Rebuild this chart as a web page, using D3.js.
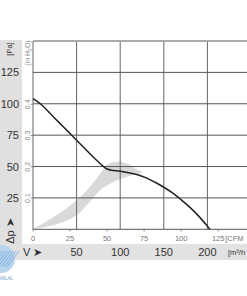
<!DOCTYPE html>
<html lang="en">
<head>
<meta charset="UTF-8">
<title>Fan curve</title>
<script src="https://d3js.org/d3.v7.min.js"></script>
<style>
  body {margin:0; background:#fff;}
  svg {display:block; font-family:"Liberation Sans", Arial, sans-serif;}
</style>
</head>
<body>
<div id="chart"></div>
<script>
// fan curve, airflow in m3/h vs static pressure in Pa
var flow     = [0, 10, 20, 30, 40, 50, 60, 70, 80, 85, 90, 100, 110, 120, 130, 140, 150, 160, 170, 180, 190, 200, 203];
var pressure = [104, 99, 92, 85, 78, 71, 64, 57, 50.5, 48, 47, 46.3, 45, 43.5, 41, 37.5, 33.5, 29, 23.5, 17.5, 10.5, 2.5, 0];

// shaded operating zone (upper edge then lower edge back to origin)
var zoneFlow     = [0, 14, 27.5, 39, 50.4, 62, 73.4, 80, 86, 94, 102, 111, 120, 125, 111, 100, 88, 77, 65, 50.4, 37, 19.5, 0];
var zonePressure = [0, 5.8, 11.4, 17, 23.3, 31.3, 40.9, 47.2, 52, 53.6, 53.6, 51.2, 47.2, 45.6, 42.5, 40, 36, 31.3, 21.7, 11.4, 6.6, 2.6, 0];

var paTicks   = [25, 50, 75, 100, 125];
var inh2oTicks = [0.1, 0.2, 0.3, 0.4];
var m3hTicks  = [50, 100, 150, 200];
var cfmTicks  = [0, 25, 50, 75, 100, 125];

var W = 247, H = 296;
var svg = d3.select("#chart").append("svg").attr("width", W).attr("height", H);

var x = d3.scaleLinear().domain([0, 250]).range([33, 251]);
var y = d3.scaleLinear().domain([0, 150]).range([229.3, 41]);

// grey label bands
svg.append("rect").attr("x", 0).attr("y", 40).attr("width", 22).attr("height", 220).attr("fill", "#e0e0e0");
svg.append("rect").attr("x", 0).attr("y", 244).attr("width", W).attr("height", 16).attr("fill", "#e2e2e2");

// shaded zone
svg.append("path")
  .datum(zoneFlow.map(function(d, i) { return [d, zonePressure[i]]; }))
  .attr("d", d3.line().x(function(d) { return x(d[0]); }).y(function(d) { return y(d[1]); }).curve(d3.curveCatmullRom))
  .attr("fill", "#d9d9d9");

// grid
svg.append("g").selectAll("line").data([0, 50, 100, 150, 200, 250]).enter().append("line")
  .attr("x1", function(d) { return x(d); }).attr("x2", function(d) { return x(d); })
  .attr("y1", y(150)).attr("y2", y(0))
  .attr("stroke", "#666").attr("stroke-width", 1);
svg.append("g").selectAll("line").data([0, 25, 50, 75, 100, 125]).enter().append("line")
  .attr("x1", x(0)).attr("x2", W)
  .attr("y1", function(d) { return y(d); }).attr("y2", function(d) { return y(d); })
  .attr("stroke", "#555").attr("stroke-width", 1);
svg.append("line").attr("x1", x(0)).attr("x2", W).attr("y1", y(150)).attr("y2", y(150))
  .attr("stroke", "#aaa").attr("stroke-width", 2);

// fan curve
svg.append("path")
  .datum(flow.map(function(d, i) { return [d, pressure[i]]; }))
  .attr("d", d3.line().x(function(d) { return x(d[0]); }).y(function(d) { return y(d[1]); }).curve(d3.curveCatmullRom))
  .attr("fill", "none").attr("stroke", "#222").attr("stroke-width", 1.5);

// Pa labels
svg.append("g").selectAll("text").data(paTicks).enter().append("text")
  .attr("x", 19).attr("y", function(d) { return y(d) + 4; })
  .attr("text-anchor", "end").attr("font-size", "11px").attr("fill", "#333")
  .text(function(d) { return d; });

// in H2O labels (rotated)
var inScale = d3.scaleLinear().domain([0, 0.6]).range([y(0), y(0.6 * 249)]);
svg.append("g").selectAll("text").data(inh2oTicks).enter().append("text")
  .attr("transform", function(d) { return "translate(30," + inScale(d) + ") rotate(-90)"; })
  .attr("text-anchor", "middle").attr("font-size", "7px").attr("fill", "#888")
  .text(function(d) { return d; });
svg.append("g").selectAll("line").data(inh2oTicks).enter().append("line")
  .attr("x1", 31).attr("x2", 33)
  .attr("y1", function(d) { return inScale(d); }).attr("y2", function(d) { return inScale(d); })
  .attr("stroke", "#888");

svg.append("text").attr("transform", "translate(12,49) rotate(-90)")
  .attr("text-anchor", "middle").attr("font-size", "7.5px").attr("fill", "#333").text("[Pa]");
var h2o = svg.append("text").attr("transform", "translate(30,53) rotate(-90)")
  .attr("text-anchor", "middle").attr("font-size", "7px").attr("fill", "#888");
h2o.append("tspan").text("(in H");
h2o.append("tspan").attr("font-size", "5px").attr("dy", 1.5).text("2");
h2o.append("tspan").attr("dy", -1.5).text("O)");

svg.append("text").attr("transform", "translate(14,231) rotate(-90)")
  .attr("text-anchor", "middle").attr("font-size", "11px").attr("fill", "#333").text("Δp ➤");

// CFM labels
var cfm = d3.scaleLinear().domain([0, 150]).range([x(0), x(150 * 1.699)]);
svg.append("g").selectAll("text").data(cfmTicks).enter().append("text")
  .attr("x", function(d) { return cfm(d); }).attr("y", 241)
  .attr("text-anchor", "middle").attr("font-size", "7.5px").attr("fill", "#777")
  .text(function(d) { return d; });
svg.append("g").selectAll("line").data(cfmTicks).enter().append("line")
  .attr("x1", function(d) { return cfm(d); }).attr("x2", function(d) { return cfm(d); })
  .attr("y1", y(0)).attr("y2", y(0) + 2).attr("stroke", "#777");
svg.append("text").attr("x", cfm(125) + 7).attr("y", 241)
  .attr("font-size", "7.5px").attr("fill", "#777").text("[CFM");

// m3/h labels
svg.append("g").selectAll("text").data(m3hTicks).enter().append("text")
  .attr("x", function(d) { return x(d); }).attr("y", 256)
  .attr("text-anchor", "middle").attr("font-size", "11px").attr("fill", "#333")
  .text(function(d) { return d; });
svg.append("text").attr("x", 23).attr("y", 256).attr("font-size", "11px").attr("fill", "#333").text("V ➤");
svg.append("text").attr("x", 228).attr("y", 255).attr("font-size", "7.5px").attr("fill", "#333").text("[m³/h");

// watermark logo
var logo = svg.append("g");
logo.append("circle").attr("cx", 1).attr("cy", 259).attr("r", 14).attr("fill", "#b8d4ee");
logo.append("g").selectAll("line").data(d3.range(-12, 14, 3)).enter().append("line")
  .attr("x1", function(d) { return 1 + d - 6; }).attr("y1", function(d) { return 259 + 8; })
  .attr("x2", function(d) { return 1 + d + 6; }).attr("y2", function(d) { return 259 - 8; })
  .attr("stroke", "#6d9fd0").attr("stroke-width", 1).attr("opacity", 0.7);
logo.append("text").attr("x", 0).attr("y", 280).attr("font-size", "4.5px").attr("fill", "#6d9fd0").text("MILAL");
</script>
</body>
</html>
